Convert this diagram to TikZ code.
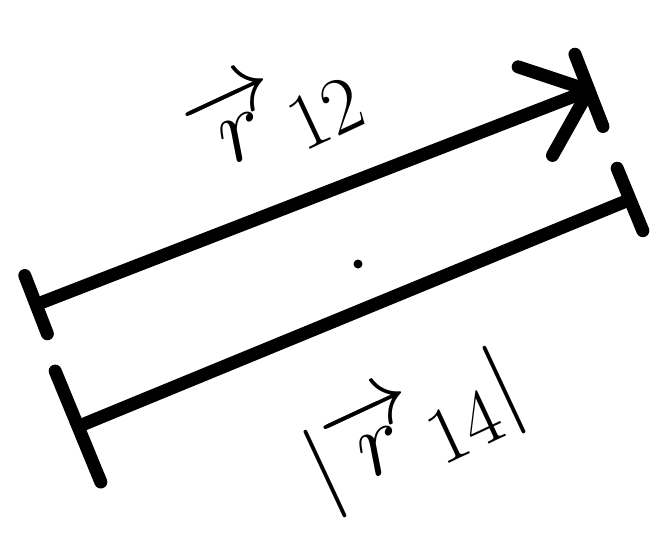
\documentclass[tikz,border=0pt]{standalone}
\usepackage{amsmath}
\usepackage{tikz}
\usetikzlibrary{arrows.meta}

\begin{document}
\begin{tikzpicture}[
  x=0.02cm, y=-0.02cm,
  vec/.style={line width=7.4pt, line cap=round, line join=round},
  lab/.style={inner sep=0pt, rotate=25, scale=2.2, transform shape,
              font=\Huge},
  speck/.style={circle, fill=black, inner sep=0pt, minimum size=0.18cm}
]
  %% Picture frame
  \useasboundingbox (0,0) rectangle (665,548);

  %% End points of the two lines
  \coordinate (a0) at (30,307);
  \coordinate (a1) at (595,88);
  \coordinate (b0) at (72,429);
  \coordinate (b1) at (636,197);

  %% Vector r12 (top)
  \draw[vec, {Bar[width=1.25cm,round]}-{Straight Barb[length=1.15cm,width=1.9cm,round,sep=-0.26cm] Bar[width=1.55cm,round]}]
    (a0) -- (a1);
  \node[lab] (r12) at (274,114) {$\overrightarrow{r}_{12}$};

  %% Length |r12| (bottom)
  \draw[vec, {Bar[width=2.4cm,round]}-{Bar[width=1.35cm,round]}]
    (b0) -- (b1);
  \node[lab] (len) at (414,430) {$|\overrightarrow{r}_{14}|$};

  %% Stray dot
  \node[speck] (dot) at (358,264) {};

\end{tikzpicture}
\end{document}
